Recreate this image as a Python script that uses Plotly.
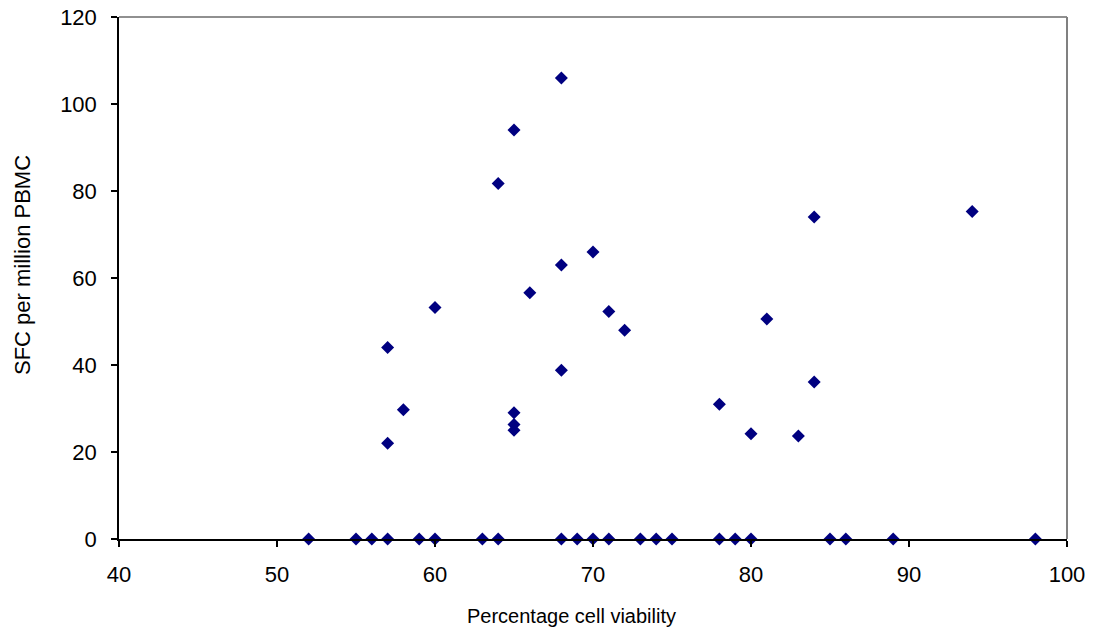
import plotly.graph_objects as go

viability = [52, 55, 56, 57, 59, 60, 63, 64, 68, 69, 70, 71, 73, 74, 75,
             78, 79, 80, 85, 86, 89, 98,
             57, 57, 58, 60, 64, 65, 65, 65, 65, 66, 68, 68, 68, 70, 71, 72,
             78, 80, 81, 83, 84, 84, 94]
sfc = [0, 0, 0, 0, 0, 0, 0, 0, 0, 0, 0, 0, 0, 0, 0,
       0, 0, 0, 0, 0, 0, 0,
       44, 22, 29.7, 53.2, 81.7, 94, 29, 26.3, 25, 56.6, 106, 63, 38.8, 66, 52.3, 48,
       31, 24.2, 50.6, 23.7, 74, 36.1, 75.3]

x_title = "Percentage cell viability"
y_title = "SFC per million PBMC"

W, H = 1094, 632
L, R, T, B = 119, 27, 17, 93
pw, ph = W - L - R, H - T - B

fig = go.Figure()
fig.add_trace(go.Scatter(
    x=viability, y=sfc, mode="markers",
    marker=dict(symbol="diamond", size=10, color="#000080",
                line=dict(width=0)),
    cliponaxis=False, showlegend=False))

fig.update_layout(
    width=W, height=H,
    margin=dict(l=L, r=R, t=T, b=B, autoexpand=False),
    paper_bgcolor="white", plot_bgcolor="white",
    font=dict(family="Liberation Sans, Arial, sans-serif", color="black"),
    xaxis=dict(range=[40, 100], dtick=10, tick0=40, showgrid=False, zeroline=False,
               showline=True, linecolor="black", linewidth=1.5,
               ticks="outside", ticklen=6, tickcolor="black", tickwidth=1.5,
               tickfont=dict(size=22), ticklabelstandoff=9, automargin=False),
    yaxis=dict(range=[0, 120], dtick=20, showgrid=False, zeroline=False,
               showline=True, linecolor="black", linewidth=1.5,
               ticks="outside", ticklen=6, tickcolor="black", tickwidth=1.5,
               tickfont=dict(size=22), ticklabelstandoff=10, automargin=False),
    shapes=[
        dict(type="line", xref="paper", yref="paper", x0=0, x1=1, y0=1, y1=1,
             line=dict(color="#909090", width=2), layer="below"),
        dict(type="line", xref="paper", yref="paper", x0=1, x1=1, y0=0, y1=1,
             line=dict(color="#808080", width=2), layer="below"),
    ],
    annotations=[
        dict(text=x_title, xref="paper", yref="paper",
             x=(571 - L) / pw, y=-(616 - (T + ph)) / ph,
             xanchor="center", yanchor="middle", showarrow=False,
             font=dict(size=20)),
        dict(text=y_title, xref="paper", yref="paper", textangle=-90,
             x=-(L - 22) / pw, y=((T + ph) - 265) / ph,
             xanchor="center", yanchor="middle", showarrow=False,
             font=dict(size=22)),
    ],
)

fig.write_html("out.html", config={"displayModeBar": False},
               post_script="document.body.style.margin='0';")
